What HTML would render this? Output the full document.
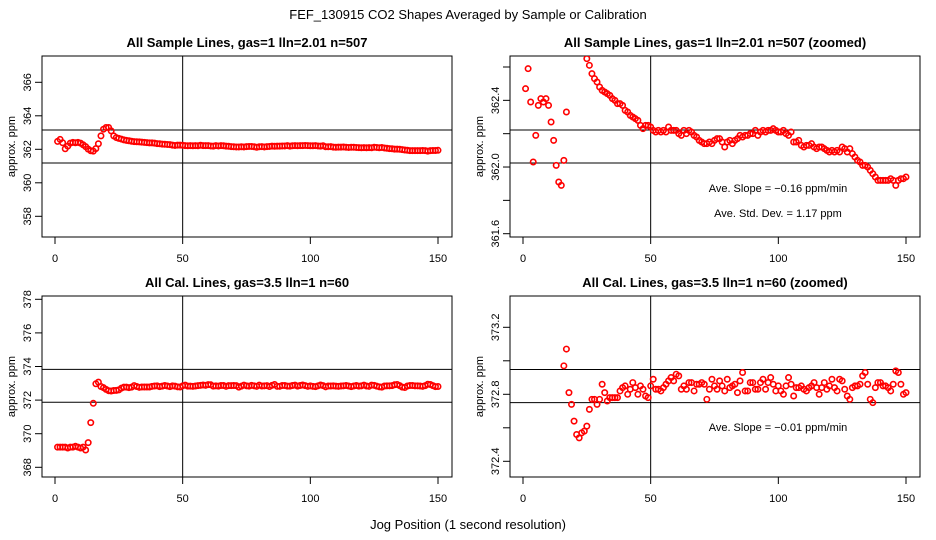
<!DOCTYPE html>
<html><head><meta charset="utf-8"><style>
html,body{margin:0;padding:0;background:#fff;overflow:hidden;width:936px;height:540px}
svg{display:block;font-family:"Liberation Sans",sans-serif}
</style></head><body>
<svg id="chart" width="936" height="540" viewBox="0 0 936 540" xmlns="http://www.w3.org/2000/svg">
<text x="468" y="19" text-anchor="middle" font-size="13">FEF_130915  CO2 Shapes Averaged by Sample or Calibration</text>
<text x="468" y="529" text-anchor="middle" font-size="13">Jog Position (1 second resolution)</text>
</svg>
<script>
const sampleValues = [362.47,362.59,362.39,362.03,362.19,362.37,362.41,362.39,362.41,362.37,362.27,362.16,362.01,361.91,361.89,362.04,362.33,362.8,363.2,363.3,363.3,363.1,362.8,362.7,362.65,362.61,362.56,362.53,362.51,362.48,362.46,362.45,362.44,362.43,362.41,362.40,362.38,362.38,362.37,362.34,362.33,362.31,362.30,362.29,362.28,362.25,362.23,362.25,362.25,362.24,362.22,362.21,362.22,362.21,362.22,362.21,362.24,362.22,362.22,362.22,362.20,362.19,362.22,362.20,362.22,362.21,362.19,362.18,362.16,362.15,362.14,362.14,362.15,362.14,362.16,362.17,362.17,362.15,362.12,362.15,362.16,362.14,362.16,362.17,362.19,362.18,362.19,362.19,362.20,362.20,362.22,362.19,362.21,362.22,362.21,362.22,362.22,362.23,362.22,362.21,362.21,362.22,362.20,362.19,362.21,362.15,362.15,362.16,362.13,362.12,362.13,362.13,362.14,362.12,362.11,362.12,362.12,362.11,362.10,362.09,362.10,362.09,362.10,362.09,362.12,362.11,362.09,362.11,362.08,362.06,362.04,362.03,362.01,362.01,362.00,361.98,361.96,361.94,361.92,361.92,361.92,361.92,361.92,361.93,361.92,361.89,361.92,361.93,361.93,361.94];
const calValues = [369.2,369.2,369.2,369.2,369.15,369.2,369.2,369.25,369.2,369.15,369.2,369.03,369.47,370.66,371.81,372.97,373.07,372.81,372.74,372.64,372.56,372.54,372.57,372.58,372.61,372.71,372.77,372.77,372.74,372.77,372.86,372.81,372.76,372.78,372.78,372.78,372.78,372.82,372.84,372.85,372.80,372.83,372.87,372.84,372.80,372.85,372.83,372.79,372.78,372.85,372.89,372.83,372.83,372.82,372.84,372.86,372.88,372.90,372.88,372.92,372.91,372.83,372.85,372.83,372.87,372.87,372.82,372.86,372.86,372.87,372.86,372.77,372.83,372.89,372.85,372.83,372.88,372.85,372.82,372.89,372.84,372.85,372.86,372.81,372.88,372.93,372.82,372.82,372.87,372.87,372.83,372.83,372.87,372.89,372.83,372.87,372.90,372.86,372.82,372.85,372.82,372.80,372.85,372.90,372.86,372.79,372.84,372.84,372.85,372.83,372.82,372.84,372.85,372.87,372.84,372.80,372.84,372.87,372.83,372.85,372.89,372.84,372.82,372.89,372.88,372.83,372.79,372.77,372.84,372.85,372.85,372.86,372.91,372.93,372.86,372.77,372.75,372.84,372.87,372.87,372.85,372.85,372.84,372.82,372.86,372.94,372.93,372.86,372.80,372.81];
const xTicks = [0,50,100,150];
const sampleTicks = [358,360,362,364,366];
const sampleZoomTicks = [361.6,361.8,362.0,362.2,362.4,362.6];
const calTicks = [368,370,372,374,376,378];
const calZoomTicks = [372.4,372.6,372.8,373.0,373.2];
const sampleHLines = [363.15,361.18];
const sampleZoomHLines = [362.222,362.024];
const calHLines = [373.83,371.87];
const calZoomHLines = [372.948,372.75];

const NS = "http://www.w3.org/2000/svg";
const svg = document.getElementById('chart');
function mk(tag, attrs, parent){
  const e = document.createElementNS(NS, tag);
  for (const k in attrs) e.setAttribute(k, attrs[k]);
  (parent||svg).appendChild(e);
  return e;
}
function panel(cfg){
  const g = mk('g', {});
  
  
  const L = cfg.left, R = L + 410, T = cfg.top, B = T + 181;
  const xs = v => L + 13 + v * (383 / 150);
  const ys = v => cfg.tickY0 - (v - cfg.tickV0) * cfg.pxPer;
  const title = mk('text', {x: (L + R) / 2, y: T - 9, 'text-anchor': 'middle', 'font-size': 13, 'font-weight': 'bold'}, g);
  title.textContent = cfg.title;
  
  
  const clipId = 'c' + cfg.name;
  const cp = mk('clipPath', {id: clipId}, g);
  mk('rect', {x: L, y: T, width: R - L, height: B - T}, cp);
  xTicks.forEach(t => {
    mk('line', {x1: xs(t), x2: xs(t), y1: B, y2: B + 7, stroke: '#000'}, g);
    const tx = mk('text', {x: xs(t), y: B + 25, 'text-anchor': 'middle', 'font-size': 11}, g);
    tx.textContent = t;
    
    
  });
  cfg.ticks.forEach((t, i) => {
    const y = ys(t);
    mk('line', {x1: L - 7, x2: L, y1: y, y2: y, stroke: '#000'}, g);
    if (!cfg.labelEvery || i % 2 === 0) {
      const tx = mk('text', {x: 0, y: 0, 'text-anchor': 'middle', 'font-size': 11, transform: `translate(${L - 11},${y}) rotate(-90)`}, g);
      tx.textContent = cfg.fmt ? t.toFixed(1) : t;
      
      
    }
  });
  const yl = mk('text', {x: 0, y: 0, 'text-anchor': 'middle', 'font-size': 11, transform: `translate(${L - 27},${(T + B) / 2}) rotate(-90)`}, g);
  yl.textContent = 'approx. ppm';
  
  
  const frame = mk('rect', {x: L, y: T, width: R - L, height: B - T, fill: 'none', stroke: '#000'}, g);
  
  
  const vl = mk('line', {x1: xs(50), x2: xs(50), y1: T, y2: B, stroke: '#000'}, g);
  
  
  cfg.hlines.forEach(h => {
    const l = mk('line', {x1: L, x2: R, y1: ys(h), y2: ys(h), stroke: '#000'}, g);
    
    
  });
  const pts = mk('g', {'clip-path': `url(#${clipId})`}, g);
  cfg.data.forEach((v, i) => {
    const c = mk('circle', {cx: xs(i + 1), cy: ys(v), r: 2.7, fill: 'none', stroke: '#f00', 'stroke-width': 1.6}, pts);
    
    
  });
  (cfg.notes || []).forEach(n => {
    const t = mk('text', {x: L + 268, y: n[1], 'text-anchor': 'middle', 'font-size': 11}, g);
    t.textContent = n[0];
    
    
  });
}
panel({name: 'sample-panel', left: 42, top: 56, title: 'All Sample Lines, gas=1 lln=2.01 n=507', data: sampleValues, ticks: sampleTicks, hlines: sampleHLines, tickY0: 216.3, tickV0: 358, pxPer: 16.75});
panel({name: 'sample-zoom-panel', left: 510, top: 56, title: 'All Sample Lines, gas=1 lln=2.01 n=507 (zoomed)', data: sampleValues, ticks: sampleZoomTicks, labelEvery: true, fmt: true, hlines: sampleZoomHLines, tickY0: 233.7, tickV0: 361.6, pxPer: 166.7,
  notes: [['Ave. Slope =  \u22120.16  ppm/min', 192], ['Ave. Std. Dev. =  1.17  ppm', 217]]});
panel({name: 'cal-panel', left: 42, top: 296, title: 'All Cal. Lines, gas=3.5 lln=1 n=60', data: calValues, ticks: calTicks, hlines: calHLines, tickY0: 467.3, tickV0: 368, pxPer: 16.8});
panel({name: 'cal-zoom-panel', left: 510, top: 296, title: 'All Cal. Lines, gas=3.5 lln=1 n=60 (zoomed)', data: calValues, ticks: calZoomTicks, labelEvery: true, fmt: true, hlines: calZoomHLines, tickY0: 461.3, tickV0: 372.4, pxPer: 167.5,
  notes: [['Ave. Slope =  \u22120.01  ppm/min', 431]]});
</script>
</body></html>
